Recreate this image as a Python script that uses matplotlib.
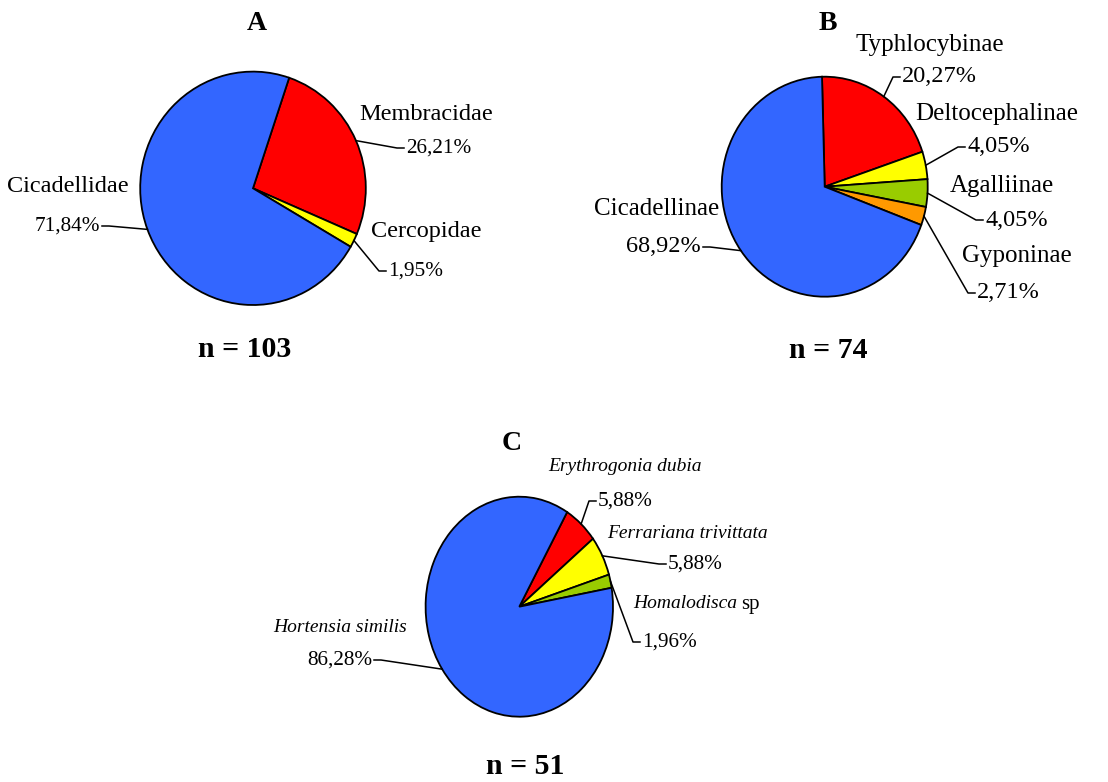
import numpy as np
import matplotlib
matplotlib.use("Agg")
import matplotlib.pyplot as plt
from matplotlib.lines import Line2D

plt.rcParams['font.family'] = 'serif'
plt.rcParams['font.serif'] = ['Liberation Serif', 'DejaVu Serif']

# data
a_labels = ['Membracidae', 'Cercopidae', 'Cicadellidae']
a_values = [26.21, 1.95, 71.84]
a_n = 103

b_labels = ['Typhlocybinae', 'Deltocephalinae', 'Agalliinae', 'Gyponinae', 'Cicadellinae']
b_values = [20.27, 4.05, 4.05, 2.71, 68.92]
b_n = 74

c_labels = ['Erythrogonia dubia', 'Ferrariana trivittata', 'Homalodisca sp', 'Hortensia similis']
c_values = [5.88, 5.88, 1.96, 86.28]
c_n = 51

BLUE = '#3366FF'
RED = '#FF0000'
YEL = '#FFFF00'
GRN = '#99CC00'
ORA = '#FF9900'

W, H = 1108, 782
fig = plt.figure(figsize=(W / 100, H / 100), dpi=100)


def fx(x, y):
    # image pixel (top-left origin) -> figure fraction
    return x / W, 1 - y / H


def pie_axes(cx, cy, rx, ry):
    return fig.add_axes([(cx - rx) / W, 1 - (cy + ry) / H, 2 * rx / W, 2 * ry / H])


def draw_pie(cx, cy, rx, ry, values, colors, start):
    ax = pie_axes(cx, cy, rx, ry)
    wedges, _ = ax.pie(values, colors=colors, startangle=start, counterclock=False,
                       wedgeprops=dict(edgecolor='black', linewidth=1.3))
    ax.set_aspect('auto')
    ax.set_xlim(-1, 1)
    ax.set_ylim(-1, 1)
    ax.axis('off')
    return ax, wedges


def pct(v):
    return ('%.2f' % v).replace('.', ',') + '%'


def label(ax, wedge, name, v, npos, ppos, ha, nsize, psize, style='normal'):
    if name is not None:
        fig.text(*fx(*npos), name, ha=ha, va='center', fontsize=nsize, style=style)
    fig.text(*fx(*ppos), pct(v), ha=ha, va='center', fontsize=psize)
    mid = np.deg2rad((wedge.theta1 + wedge.theta2) / 2)
    disp = ax.transData.transform((np.cos(mid), np.sin(mid)))
    ex, ey = fig.transFigure.inverted().transform(disp)
    s = -1 if ha == 'left' else 1
    x0, y0 = fx(ppos[0] + s * 2, ppos[1])
    x1, y1 = fx(ppos[0] + s * 9, ppos[1])
    fig.add_artist(Line2D([x0, x1, ex], [y0, y1, ey], color='black', lw=1.1,
                          transform=fig.transFigure))


# ---- A ----
axA, wA = draw_pie(253, 188.3, 112.8, 116.7, a_values, [RED, YEL, BLUE], 71.3)
fig.text(*fx(257, 24), 'A', ha='center', va='center', fontsize=20, fontweight='bold')
fig.text(*fx(245, 349), 'n = %d' % a_n, ha='center', va='center', fontsize=21.5, fontweight='bold')
label(axA, wA[0], a_labels[0], a_values[0], (359, 115), (406, 148), 'left', 17.5, 15.3)
label(axA, wA[1], a_labels[1], a_values[1], (371, 231), (388, 271), 'left', 17.5, 15.3)
label(axA, wA[2], a_labels[2], a_values[2], (129, 186), (100, 226), 'right', 17.5, 15.3)

# ---- B ----
axB, wB = draw_pie(824.7, 186.7, 103, 110, b_values, [RED, YEL, GRN, ORA, BLUE], 91.5)
fig.text(*fx(828, 24), 'B', ha='center', va='center', fontsize=20, fontweight='bold')
fig.text(*fx(828, 351), 'n = %d' % b_n, ha='center', va='center', fontsize=21.5, fontweight='bold')
label(axB, wB[0], b_labels[0], b_values[0], (856, 45), (902, 77), 'left', 18, 17.5)
label(axB, wB[1], b_labels[1], b_values[1], (915, 114), (967, 147), 'left', 18, 17.5)
label(axB, wB[2], b_labels[2], b_values[2], (950, 186), (985, 220), 'left', 18, 17.5)
label(axB, wB[3], b_labels[3], b_values[3], (962, 256), (977, 293), 'left', 18, 17.5)
label(axB, wB[4], b_labels[4], b_values[4], (719, 209), (701, 247), 'right', 18, 17.5)

# ---- C ----
axC, wC = draw_pie(519.3, 606.7, 93.7, 110, c_values, [RED, YEL, GRN, BLUE], 59.3)
fig.text(*fx(512, 443), 'C', ha='center', va='center', fontsize=20, fontweight='bold')
fig.text(*fx(525, 767), 'n = %d' % c_n, ha='center', va='center', fontsize=21.5, fontweight='bold')
label(axC, wC[0], c_labels[0], c_values[0], (548, 466), (598, 501), 'left', 14, 15.3, 'italic')
label(axC, wC[1], c_labels[1], c_values[1], (607, 534), (668, 564), 'left', 14, 15.3, 'italic')
label(axC, wC[2], None, c_values[2], None, (642, 642), 'left', 14, 15.3)
genus, sp = c_labels[2].split(' ')
t = fig.text(*fx(633, 604), genus, ha='left', va='center', fontsize=14, style='italic')
r = fig.canvas.get_renderer()
gx = t.get_window_extent(r).x1 / W
fig.text(gx + 4 / W, fx(0, 604)[1], sp, ha='left', va='center', fontsize=15)
label(axC, wC[3], c_labels[3], c_values[3], (407, 628), (372, 660), 'right', 14, 15.3, 'italic')

fig.savefig('out.png', dpi=100)
